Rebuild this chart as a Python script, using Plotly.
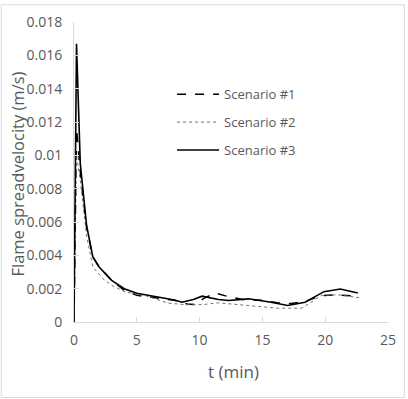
import plotly.graph_objects as go

# Scenario #1 (dashed)
t1 = [0, 0.2, 0.5, 1, 1.5, 2, 3, 4, 5, 6, 7, 8, 9, 9.7, 10.3, 11.2, 12.3, 13.6, 14.9, 16.2, 17.3, 18.4, 19.7, 20.7, 22.7]
v1 = [0, 0.0116, 0.0090, 0.0057, 0.0039, 0.0033, 0.0025, 0.0019, 0.0016, 0.0015, 0.0014, 0.0013, 0.00108, 0.00104,
      0.0014, 0.00174, 0.00152, 0.00133, 0.0013, 0.00115, 0.00111, 0.00123, 0.00159, 0.00162, 0.00155]
# Scenario #2 (dotted)
t2 = [0, 0.2, 0.5, 1, 1.5, 2.3, 3, 4.1, 5.7, 7.5, 8.9, 10.2, 11.5, 14, 14.9, 16.2, 18.1, 18.3, 19.7, 21, 22.7]
v2 = [0, 0.0100, 0.0085, 0.0052, 0.0033, 0.0026, 0.0022, 0.0018, 0.00158, 0.00113, 0.00104, 0.00104, 0.00115,
      0.00097, 0.00089, 0.00083, 0.00083, 0.00090, 0.0016, 0.00163, 0.00146]
# Scenario #3 (solid)
t3 = [0, 0.2, 0.5, 1.0, 1.5, 2, 3, 4, 5, 6, 7, 8, 8.6, 9.5, 10.2, 11.5, 12.3, 13.9, 15.7, 17.0, 18.4, 19.9, 21.2, 22.6]
v3 = [0, 0.0167, 0.0095, 0.0058, 0.0039, 0.0033, 0.0025, 0.0020, 0.00172, 0.00158, 0.00148, 0.00132, 0.00119,
      0.00135, 0.00155, 0.00135, 0.00129, 0.00139, 0.00119, 0.00099, 0.00119, 0.00182, 0.00198, 0.00174]

x_ticks = [0, 5, 10, 15, 20, 25]
y_ticks = [0, 0.002, 0.004, 0.006, 0.008, 0.01, 0.012, 0.014, 0.016, 0.018]
y_labels = ["0", "0.002", "0.004", "0.006", "0.008", "0.01", "0.012", "0.014", "0.016", "0.018"]

FONT = "Open Sans"
GREY = "#595959"

fig = go.Figure()
fig.add_trace(go.Scatter(x=t1, y=v1, mode="lines", name="Scenario #1", legendgroup="a",
                         line=dict(color="#000000", width=1.5, dash="dash")))
fig.add_trace(go.Scatter(x=t2, y=v2, mode="lines", name="Scenario #2", legendgroup="b",
                         line=dict(color="#707070", width=1, dash="dot")))
fig.add_trace(go.Scatter(x=t3, y=v3, mode="lines", name="Scenario #3", legendgroup="c",
                         line=dict(color="#000000", width=1.6)))

L, R, T, B = 74, 17, 18, 77
W, H = 408, 399
pw, ph = W - L - R, H - T - B

fig.update_layout(
    width=W, height=H,
    margin=dict(l=L, r=R, t=T, b=B),
    paper_bgcolor="white", plot_bgcolor="white",
    font=dict(family=FONT, size=12, color=GREY),
    showlegend=True,
    legend=dict(x=(173 - L) / pw, y=(ph + T - 76) / ph, xanchor="left", yanchor="top",
                bgcolor="rgba(0,0,0,0)", font=dict(size=13, color=GREY),
                tracegroupgap=8, itemwidth=42),
    xaxis=dict(range=[0, 25], tickvals=x_ticks, showgrid=False, zeroline=False,
               showline=True, linecolor="#d9d9d9", linewidth=1,
               ticks="inside", ticklen=5, tickcolor="#d9d9d9", ticklabelstandoff=5,
               tickfont=dict(size=14, color=GREY)),
    yaxis=dict(range=[0, 0.018], tickvals=y_ticks, ticktext=y_labels, showgrid=False, zeroline=False,
               showline=True, linecolor="#d9d9d9", linewidth=1,
               ticks="inside", ticklen=5, tickcolor="#d9d9d9", ticklabelstandoff=8,
               tickfont=dict(size=14, color=GREY)),
    annotations=[
        dict(text="t (min)", xref="paper", yref="paper", x=(235 - L) / pw, y=-(372 - T - ph) / ph,
             xanchor="center", yanchor="middle", showarrow=False, font=dict(size=17, color=GREY)),
        dict(text="Flame spreadvelocity (m/s)", xref="paper", yref="paper", x=(16.5 - L) / pw,
             y=(ph + T - 172.5) / ph, textangle=-90, xanchor="center", yanchor="middle",
             showarrow=False, font=dict(size=16.5, color=GREY)),
    ],
    shapes=[dict(type="rect", xref="paper", yref="paper",
                 x0=(0.5 - L) / pw, x1=(W - 0.5 - L) / pw,
                 y0=-(B - 0.5) / ph, y1=(ph + T - 0.5) / ph,
                 line=dict(color="#d9d9d9", width=1), layer="below")],
)

fig.write_html("out.html", config={"displayModeBar": False},
               post_script="document.body.style.margin='0';document.body.style.overflow='hidden';")
